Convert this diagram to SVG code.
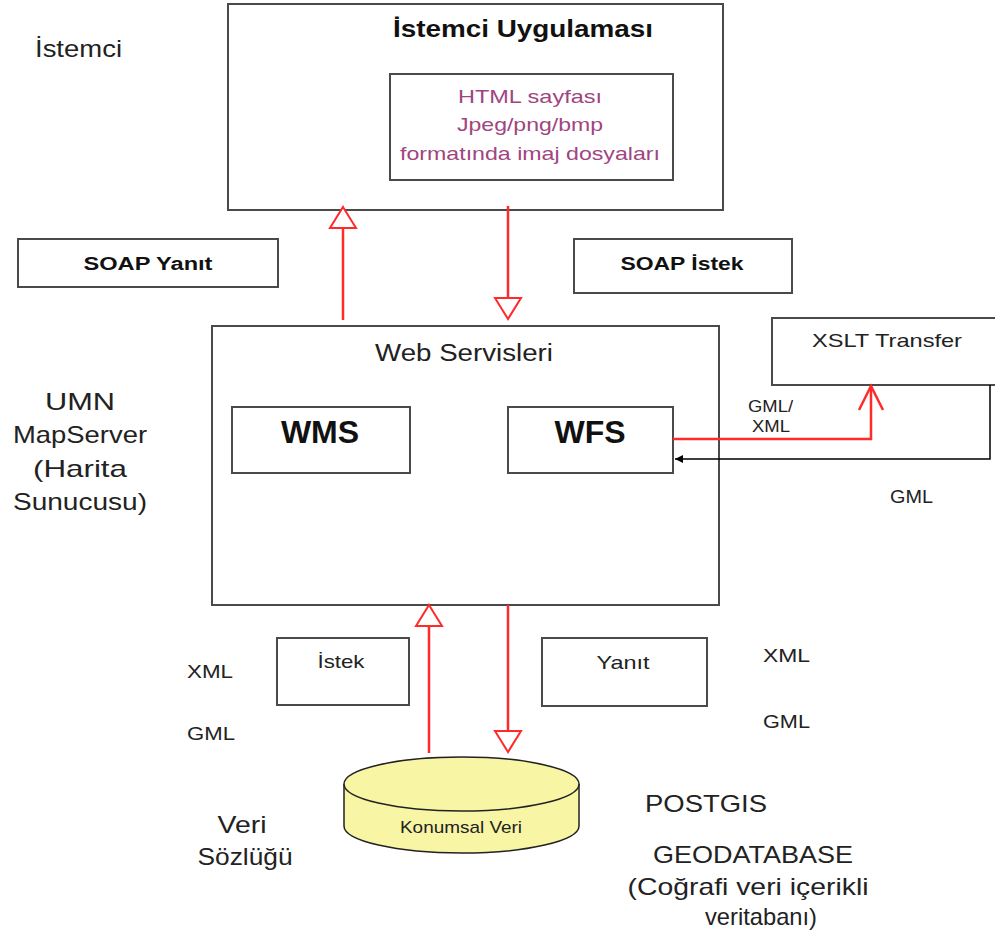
<svg xmlns="http://www.w3.org/2000/svg" width="995" height="942" viewBox="0 0 995 942">
<defs>
<style>
text{font-family:"Liberation Sans",Arial,sans-serif;fill:#222}
.box{fill:#fff;stroke:#4a4a4a;stroke-width:2}
.b{font-weight:bold;fill:#111}
.p{fill:#a0457f}
.red{stroke:#ff2a2a;stroke-width:2.5;fill:none}
.head{stroke:#ff2a2a;stroke-width:2;fill:#fff}
</style>
<marker id="blk" markerWidth="10" markerHeight="10" refX="8" refY="5" orient="auto" markerUnits="userSpaceOnUse">
<path d="M0,1 L8,5 L0,9 Z" fill="#000"/>
</marker>
</defs>
<rect width="995" height="942" fill="#fff"/>

<g id="labels">
<text x="35" y="57" font-size="24" textLength="87" lengthAdjust="spacingAndGlyphs">İstemci</text>
<text x="80" y="410" font-size="24" text-anchor="middle" textLength="70" lengthAdjust="spacingAndGlyphs">UMN</text>
<text x="80" y="443" font-size="24" text-anchor="middle" textLength="134" lengthAdjust="spacingAndGlyphs">MapServer</text>
<text x="80" y="477" font-size="24" text-anchor="middle" textLength="94" lengthAdjust="spacingAndGlyphs">(Harita</text>
<text x="80" y="510" font-size="24" text-anchor="middle" textLength="134" lengthAdjust="spacingAndGlyphs">Sunucusu)</text>
<text x="187" y="678" font-size="19" textLength="46" lengthAdjust="spacingAndGlyphs">XML</text>
<text x="187" y="740" font-size="19" textLength="48" lengthAdjust="spacingAndGlyphs">GML</text>
<text x="763" y="662" font-size="19" textLength="47" lengthAdjust="spacingAndGlyphs">XML</text>
<text x="763" y="728" font-size="19" textLength="47" lengthAdjust="spacingAndGlyphs">GML</text>
<text x="748" y="412" font-size="17" textLength="45" lengthAdjust="spacingAndGlyphs">GML/</text>
<text x="752" y="432" font-size="17" textLength="38" lengthAdjust="spacingAndGlyphs">XML</text>
<text x="890" y="503" font-size="18" textLength="43" lengthAdjust="spacingAndGlyphs">GML</text>
<text x="242" y="833" font-size="24" text-anchor="middle" textLength="49" lengthAdjust="spacingAndGlyphs">Veri</text>
<text x="245" y="865" font-size="24" text-anchor="middle" textLength="95" lengthAdjust="spacingAndGlyphs">Sözlüğü</text>
<text x="645" y="812" font-size="24" textLength="122" lengthAdjust="spacingAndGlyphs">POSTGIS</text>
<text x="753" y="863" font-size="24" text-anchor="middle" textLength="200" lengthAdjust="spacingAndGlyphs">GEODATABASE</text>
<text x="748" y="895" font-size="24" text-anchor="middle" textLength="241" lengthAdjust="spacingAndGlyphs">(Coğrafi veri içerikli</text>
<text x="761" y="925" font-size="24" text-anchor="middle" textLength="112" lengthAdjust="spacingAndGlyphs">veritabanı)</text>
</g>

<g id="istemci-uygulamasi">
<rect class="box" x="228" y="4" width="495" height="206"/>
<text class="b" x="523" y="37" font-size="23" text-anchor="middle" textLength="260" lengthAdjust="spacingAndGlyphs">İstemci Uygulaması</text>
</g>
<g id="html-box">
<rect class="box" x="390" y="74" width="283" height="106"/>
<text class="p" x="530" y="103" font-size="19" text-anchor="middle" textLength="144" lengthAdjust="spacingAndGlyphs">HTML sayfası</text>
<text class="p" x="530" y="131" font-size="19" text-anchor="middle" textLength="146" lengthAdjust="spacingAndGlyphs">Jpeg/png/bmp</text>
<text class="p" x="530" y="160" font-size="19" text-anchor="middle" textLength="260" lengthAdjust="spacingAndGlyphs">formatında imaj dosyaları</text>
</g>

<g id="soap-yanit">
<rect class="box" x="18" y="239" width="260" height="48"/>
<text class="b" x="148" y="270" font-size="18" text-anchor="middle" textLength="129" lengthAdjust="spacingAndGlyphs">SOAP Yanıt</text>
</g>
<g id="soap-istek">
<rect class="box" x="574" y="239" width="218" height="54"/>
<text class="b" x="682" y="270" font-size="18" text-anchor="middle" textLength="123" lengthAdjust="spacingAndGlyphs">SOAP İstek</text>
</g>

<g id="web-servisleri">
<rect class="box" x="212" y="326" width="507" height="279"/>
<text x="464" y="361" font-size="23" text-anchor="middle" textLength="178" lengthAdjust="spacingAndGlyphs">Web Servisleri</text>
</g>
<g id="wms">
<rect class="box" x="232" y="407" width="178" height="66"/>
<text class="b" x="320" y="443" font-size="32" text-anchor="middle">WMS</text>
</g>
<g id="wfs">
<rect class="box" x="508" y="407" width="165" height="66"/>
<text class="b" x="590" y="443" font-size="32" text-anchor="middle">WFS</text>
</g>

<g id="xslt">
<rect class="box" x="772" y="318" width="240" height="67"/>
<text x="887" y="347" font-size="19" text-anchor="middle" textLength="150" lengthAdjust="spacingAndGlyphs">XSLT Transfer</text>
</g>

<g id="istek">
<rect class="box" x="277" y="638" width="132" height="67"/>
<text x="341" y="668" font-size="19" text-anchor="middle" textLength="47" lengthAdjust="spacingAndGlyphs">İstek</text>
</g>
<g id="yanit">
<rect class="box" x="542" y="638" width="165" height="68"/>
<text x="623" y="669" font-size="19" text-anchor="middle" textLength="53" lengthAdjust="spacingAndGlyphs">Yanıt</text>
</g>

<g id="konumsal-veri">
<path d="M344,784 L344,826 A117.5,27 0 0 0 579,826 L579,784" fill="#f8f5a4" stroke="#222" stroke-width="1.5"/>
<ellipse cx="461.5" cy="784" rx="117.5" ry="27" fill="#f8f5a4" stroke="#222" stroke-width="1.5"/>
<text x="461" y="833" font-size="17" text-anchor="middle" textLength="122" lengthAdjust="spacingAndGlyphs">Konumsal Veri</text>
</g>

<g id="connectors">
<line class="red" x1="343" y1="320" x2="343" y2="228"/>
<path class="head" d="M343,207 L356,228 L330,228 Z"/>
<line class="red" x1="508" y1="206" x2="508" y2="298"/>
<path class="head" d="M508,319 L495,298 L521,298 Z"/>
<line class="red" x1="429" y1="753" x2="429" y2="626"/>
<path class="head" d="M429,605 L442,626 L416,626 Z"/>
<line class="red" x1="508" y1="605" x2="508" y2="731"/>
<path class="head" d="M508,752 L495,731 L521,731 Z"/>
<polyline class="red" points="673,439 871,439 871,386"/>
<polyline class="red" points="859,410 871,386 883,410"/>
<polyline points="990,385 990,459 675,459" fill="none" stroke="#000" stroke-width="1.5" marker-end="url(#blk)"/>
</g>
</svg>
